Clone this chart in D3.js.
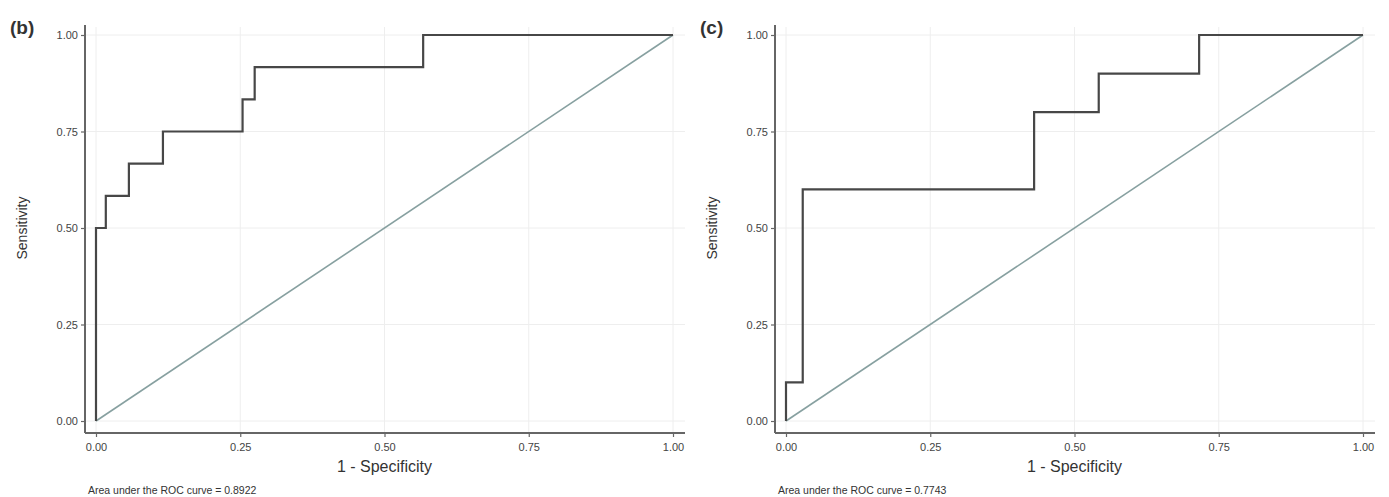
<!DOCTYPE html>
<html>
<head>
<meta charset="utf-8">
<script src="https://cdn.jsdelivr.net/npm/d3@7"></script>
<style>
  body { margin: 0; background: #fff; }
  svg text { font-family: "Liberation Sans", Arial, sans-serif; }
</style>
</head>
<body>
<div id="chart"></div>
<script>
// ROC curve points (1 - specificity, sensitivity)
var fprB = [0, 0, 0.017, 0.017, 0.057, 0.057, 0.116, 0.116, 0.254, 0.254, 0.275, 0.275, 0.567, 0.567, 1];
var tprB = [0, 0.5, 0.5, 0.583, 0.583, 0.667, 0.667, 0.75, 0.75, 0.833, 0.833, 0.917, 0.917, 1, 1];
var fprC = [0, 0, 0.029, 0.029, 0.43, 0.43, 0.542, 0.542, 0.716, 0.716, 1];
var tprC = [0, 0.1, 0.1, 0.6, 0.6, 0.8, 0.8, 0.9, 0.9, 1, 1];
var ticks = [0, 0.25, 0.5, 0.75, 1];
var panelLabels = ["(b)", "(c)"];
var aucLabels = ["Area under the ROC curve = 0.8922", "Area under the ROC curve = 0.7743"];

var svg = d3.select("#chart").append("svg")
    .attr("width", 1389)
    .attr("height", 497);

var panels = [
    { left: 96, fpr: fprB, tpr: tprB },
    { left: 786, fpr: fprC, tpr: tprC }
];

panels.forEach(function(p, i) {
    var x = d3.scaleLinear().domain([0, 1]).range([p.left, p.left + 577]);
    var y = d3.scaleLinear().domain([0, 1]).range([421, 35]);
    var g = svg.append("g");

    // gridlines
    g.selectAll(".vgrid").data(ticks).enter().append("line")
        .attr("x1", d => x(d)).attr("x2", d => x(d))
        .attr("y1", 27).attr("y2", 432)
        .attr("stroke", "#eeeeee").attr("stroke-width", 1);
    g.selectAll(".hgrid").data(ticks).enter().append("line")
        .attr("x1", p.left - 11).attr("x2", p.left + 589)
        .attr("y1", d => y(d)).attr("y2", d => y(d))
        .attr("stroke", "#eeeeee").attr("stroke-width", 1);

    // axes
    var xAxis = g.append("g")
        .attr("transform", "translate(0,433)")
        .call(d3.axisBottom(x).tickValues(ticks).tickFormat(d3.format(".2f")).tickSize(4).tickPadding(6));
    var yAxis = g.append("g")
        .attr("transform", "translate(" + (p.left - 11) + ",0)")
        .call(d3.axisLeft(y).tickValues(ticks).tickFormat(d3.format(".2f")).tickSize(4).tickPadding(3));
    xAxis.select(".domain").attr("d", "M" + (p.left - 11) + ",0H" + (p.left + 589));
    yAxis.select(".domain").attr("d", "M0,25V433");
    [xAxis, yAxis].forEach(function(a) {
        a.select(".domain").attr("stroke", "#666").attr("stroke-width", 2);
        a.selectAll(".tick line").attr("stroke", "#666").attr("stroke-width", 1.2);
        a.selectAll(".tick text").attr("fill", "#444").attr("font-size", 11);
    });

    // reference diagonal
    g.append("line")
        .attr("x1", x(0)).attr("y1", y(0))
        .attr("x2", x(1)).attr("y2", y(1))
        .attr("stroke", "#87a0a0").attr("stroke-width", 1.6);

    // ROC curve
    var pts = p.fpr.map(function(v, k) { return [v, p.tpr[k]]; });
    g.append("path")
        .datum(pts)
        .attr("d", d3.line().x(d => x(d[0])).y(d => y(d[1])))
        .attr("fill", "none")
        .attr("stroke", "#474747")
        .attr("stroke-width", 2.2);

    // text
    g.append("text")
        .attr("x", p.left - 86).attr("y", 34)
        .attr("font-size", 19).attr("font-weight", "bold")
        .attr("font-family", "'Open Sans', sans-serif")
        .attr("fill", "#333")
        .text(panelLabels[i]);
    g.append("text")
        .attr("transform", "translate(" + (p.left - 69) + ",228) rotate(-90)")
        .attr("text-anchor", "middle")
        .attr("font-size", 14).attr("fill", "#333")
        .text("Sensitivity");
    g.append("text")
        .attr("x", x(0.5)).attr("y", 472)
        .attr("text-anchor", "middle")
        .attr("font-size", 16).attr("fill", "#333")
        .text("1 - Specificity");
    g.append("text")
        .attr("x", p.left - 8).attr("y", 494)
        .attr("font-size", 10.5).attr("fill", "#333")
        .text(aucLabels[i]);
});
</script>
</body>
</html>
